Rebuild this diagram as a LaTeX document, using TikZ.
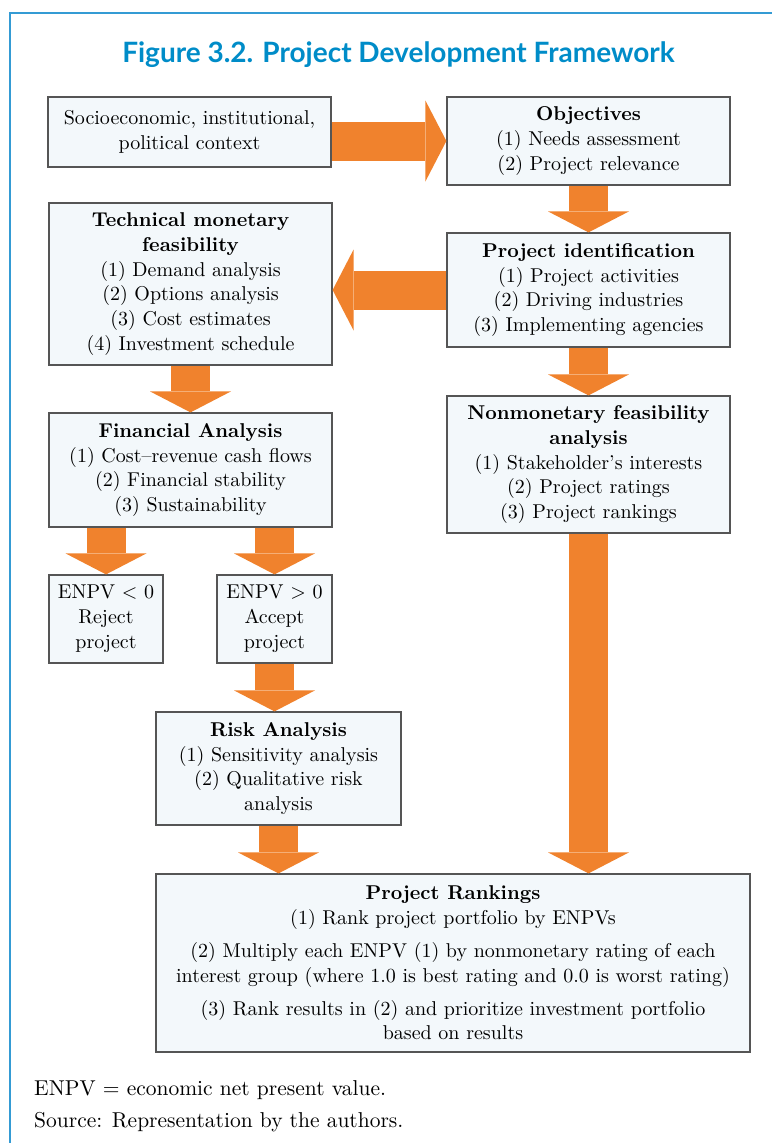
\documentclass[tikz,border=0pt]{standalone}
\usepackage{fontspec}
\usepackage{tikz}
\usetikzlibrary{arrows.meta,calc}
\setmainfont{lmroman10-regular.otf}[BoldFont=lmroman10-bold.otf,ItalicFont=lmroman10-italic.otf]
\newfontfamily\titlefont{Lato}
\definecolor{frameblue}{RGB}{52,155,212}
\definecolor{titleblue}{RGB}{0,140,200}
\definecolor{fatorange}{RGB}{240,130,45}
\definecolor{boxfill}{RGB}{243,248,251}
\definecolor{boxline}{RGB}{85,85,85}
\tikzset{
  box/.style={rectangle,draw=boxline,fill=boxfill,line width=1.2pt,align=center,inner sep=0pt,
    font=\fontsize{20}{24.8}\selectfont},
  fat/.style={draw=fatorange,line width=39pt,
    -{Triangle[width=81pt,length=21pt,line width=0pt,fill=fatorange]}},
  note/.style={anchor=base west,inner sep=0pt,font=\fontsize{21.5}{26}\selectfont},
}

\begin{document}
\begin{tikzpicture}[x=1pt,y=-1pt]
        \useasboundingbox (0,0) rectangle (772,1143);

        \draw[frameblue,line width=2pt] (10,1143) -- (10,13) -- (772,13);

        \node [anchor=base,inner sep=0pt,text=titleblue,font=\titlefont\bfseries\fontsize{28}{32}\selectfont] (title) at (398.5,62) {Figure 3.2. Project Development Framework};

        \node [box,minimum width=283pt,minimum height=70pt] (soc) at (189.5,132) {Socioeconomic, institutional,\\political context};
        \node [box,minimum width=283pt,minimum height=88pt] (obj) at (588.5,141) {\textbf{Objectives}\\(1) Needs assessment\\(2) Project relevance};
        \node [box,minimum width=283pt,minimum height=114pt] (pid) at (588.5,290) {\textbf{Project identification}\\(1) Project activities\\(2) Driving industries\\(3) Implementing agencies};
        \node [box,minimum width=283pt,minimum height=162pt] (tech) at (190.5,284) {\textbf{Technical monetary}\\\textbf{feasibility}\\(1) Demand analysis\\(2) Options analysis\\(3) Cost estimates\\(4) Investment schedule};
        \node [box,minimum width=283pt,minimum height=137pt] (nonmon) at (588.5,464.5) {\textbf{Nonmonetary feasibility}\\\textbf{analysis}\\(1) Stakeholder’s interests\\(2) Project ratings\\(3) Project rankings};
        \node [box,minimum width=283pt,minimum height=114pt] (fin) at (190.5,470) {\textbf{Financial Analysis}\\(1) Cost–revenue cash flows\\(2) Financial stability\\(3) Sustainability};
        \node [box,minimum width=114pt,minimum height=88pt] (neg) at (106,619) {ENPV < 0\\Reject\\project};
        \node [box,minimum width=115pt,minimum height=88pt] (pos) at (274.5,619) {ENPV > 0\\Accept\\project};
        \node [box,minimum width=245pt,minimum height=113pt] (risk) at (278.5,768.5) {\textbf{Risk Analysis}\\(1) Sensitivity analysis\\(2) Qualitative risk\\analysis};
        \node [box,minimum width=594pt,minimum height=178pt] (rank) at (453,963) {\textbf{Project Rankings}\\(1) Rank project portfolio by ENPVs\\[8pt]
          (2) Multiply each ENPV (1) by nonmonetary rating of each\\interest group (where 1.0 is best rating and 0.0 is worst rating)\\[8pt]
          (3) Rank results in (2) and prioritize investment portfolio\\based on results};

        \draw[fat] (soc.east |- obj.west) -- (obj.west);
        \draw[fat] (obj.south) -- (pid.north);
        \draw[fat] (pid.west) -- (pid.west -| tech.east);
        \draw[fat] (pid.south) -- (nonmon.north);
        \draw[fat] (tech.south) -- (fin.north);
        \draw[fat] (fin.south -| neg.north) -- (neg.north);
        \draw[fat] (fin.south -| pos.north) -- (pos.north);
        \draw[fat] (pos.south) -- (pos.south |- risk.north);
        \draw[fat] (risk.south) -- (risk.south |- rank.north);
        \draw[fat] (nonmon.south) -- (nonmon.south |- rank.north);

        \node [note] (enpv) at (34,1095) {ENPV = economic net present value.};
        \node [note] (source) at (34,1127) {Source: Representation by the authors.};
    \end{tikzpicture}
\end{document}
